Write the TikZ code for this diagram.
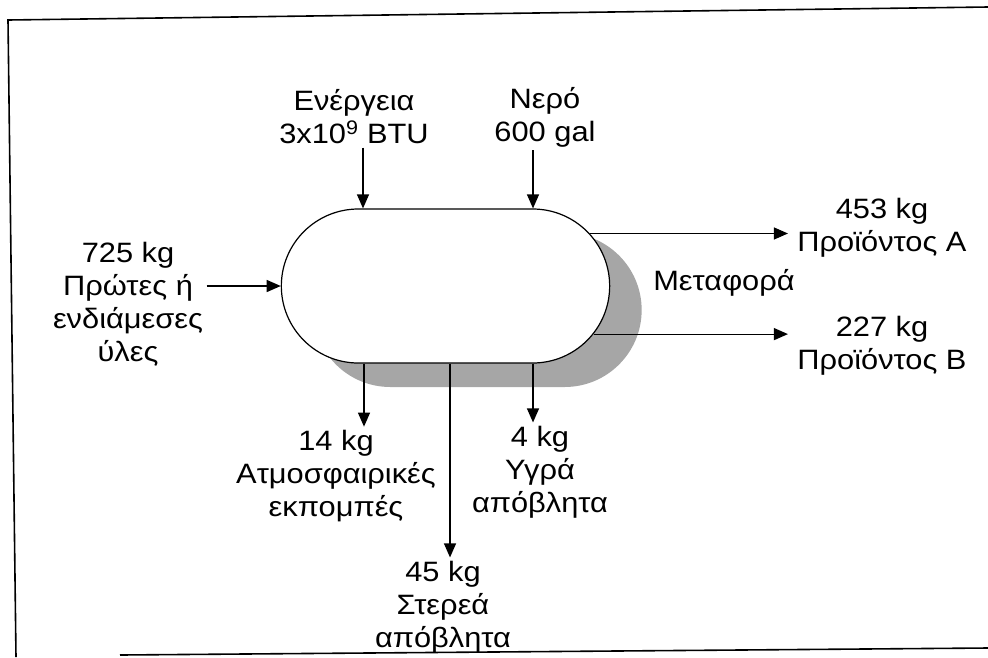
\documentclass[tikz,border=0pt]{standalone}
\usepackage{fontspec}
\setmainfont{Liberation Sans}[FakeStretch=1.1]
\usetikzlibrary{arrows.meta,shapes.misc,shadows}

\begin{document}
\begin{tikzpicture}[x=1pt,y=-1pt,>={Triangle[length=14pt,width=12pt]},
  flow/.style={->,line width=1.2pt},
  txt/.style={align=center,font=\fontsize{28}{33}\selectfont},
  unit/.style={rounded rectangle,draw,line width=1.2pt,fill=white,
    minimum width=335pt,minimum height=154pt,
    drop shadow={shadow xshift=32pt,shadow yshift=-24pt,fill=black!35,opacity=1}}]
  \useasboundingbox (0,0) rectangle (988,657);
  % frame of the page
  \draw[line width=1.6pt] (988,7) -- (8,20) -- (16,657);
  \draw[line width=1.6pt] (120,655) -- (988,648);

  % the process
  \node[unit] (proc) at (445.5,286) {};

  % inputs
  \node[txt] (energy) at (354,117) {Ενέργεια\\3x10\textsuperscript{9} BTU};
  \node[txt] (water) at (545,117) {Νερό\\600 gal};
  \node[txt] (feed) at (128,304) {725 kg\\Πρώτες ή\\ενδιάμεσες\\ύλες};

  % outputs
  \node[txt] (prodA) at (882,228) {453 kg\\Προϊόντος Α};
  \node[txt] (prodB) at (882,346) {227 kg\\Προϊόντος Β};
  \node[txt] (transport) at (724,283) {Μεταφορά};
  \node[txt] (air) at (336,476) {14 kg\\Ατμοσφαιρικές\\εκπομπές};
  \node[txt] (liquid) at (540,472) {4 kg\\Υγρά\\απόβλητα};
  \node[txt] (solid) at (443,607) {45 kg\\Στερεά\\απόβλητα};

  \coordinate (inE) at ([xshift=-82.5pt]proc.north);
  \coordinate (inW) at ([xshift=87.5pt]proc.north);
  \coordinate (outG) at ([xshift=-81.5pt]proc.south);
  \coordinate (outS) at ([xshift=4.5pt]proc.south);
  \coordinate (outL) at ([xshift=87.5pt]proc.south);

  \draw[flow] (inE |- energy.south) -- (inE);
  \draw[flow] (inW |- water.south) -- (inW);
  \draw[flow] (feed.east |- proc.west) -- (proc.west);
  \draw[flow,shorten >=6pt] (proc.20) -- (proc.20 -| prodA.west);
  \draw[flow,shorten >=6pt] (proc.-18) -- (proc.-18 -| prodB.west);
  \draw[flow] (outG) -- (outG |- air.north);
  \draw[flow] (outS) -- (outS |- solid.north);
  \draw[flow] (outL) -- (outL |- liquid.north);
\end{tikzpicture}
\end{document}
